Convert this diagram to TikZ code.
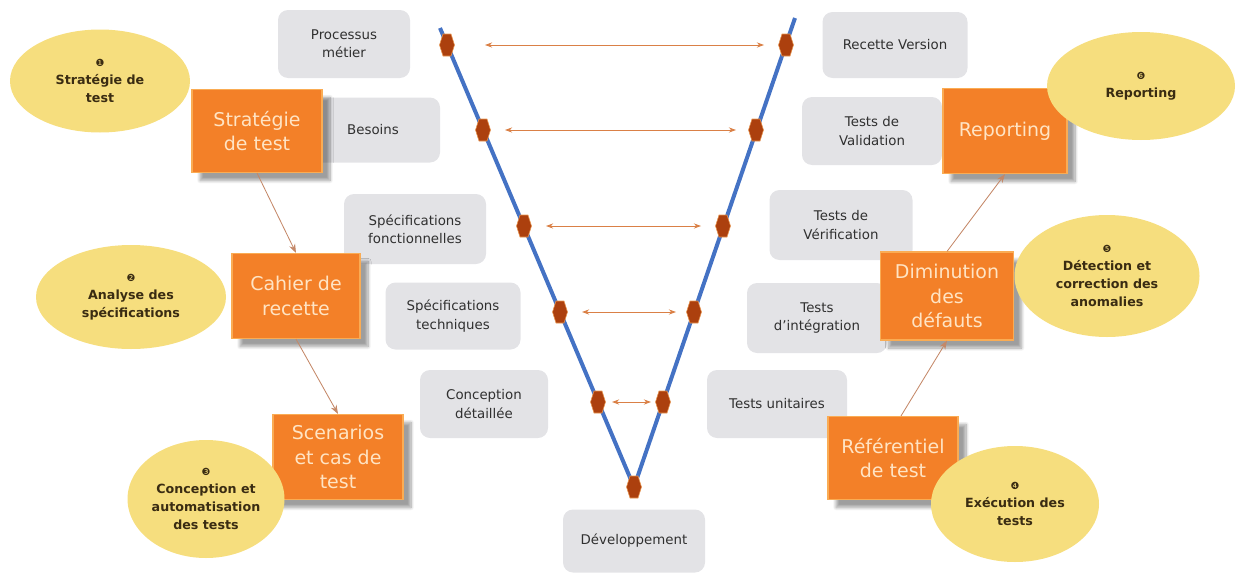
\documentclass[tikz,border=0pt]{standalone}
\usepackage{fontspec}
\setmainfont{DejaVu Sans}
\usepackage{xcolor}
\usetikzlibrary{arrows.meta,shapes.geometric,shadows.blur}

\definecolor{vblue}{RGB}{68,114,196}
\definecolor{markbrown}{RGB}{172,64,14}
\definecolor{markedge}{RGB}{232,150,80}
\definecolor{spanorange}{RGB}{218,128,70}
\definecolor{linkbrown}{RGB}{196,136,104}
\definecolor{stagegray}{RGB}{227,227,230}
\definecolor{stagetext}{RGB}{48,48,48}
\definecolor{phaseorange}{RGB}{243,128,40}
\definecolor{phaseedge}{RGB}{250,172,84}
\definecolor{phasetext}{RGB}{255,228,196}
\definecolor{actyellow}{RGB}{246,222,126}
\definecolor{acttext}{RGB}{58,44,18}

\newcommand\actnum[1]{{\mdseries\fontsize{7}{7}\selectfont #1}}

\tikzset{
  hexmark/.pic={
    \filldraw[fill=markbrown,draw=markedge,line width=.4pt]
      (-4,-11) -- (4,-11) -- (7.5,0) -- (4,11) -- (-4,11) -- (-7.5,0) -- cycle;
  },
}

\begin{document}
\begin{tikzpicture}[
    x=0.25mm, y=-0.25mm,
    >={Stealth[length=1.8mm,width=1.3mm]},
    box size/.style 2 args={minimum width=#1*0.25mm, minimum height=#2*0.25mm},
    stage/.style={rounded corners=2.5mm, fill=stagegray, text=stagetext,
      align=center, inner sep=0pt, font=\fontsize{9.5}{13}\selectfont},
    phase/.style={fill=phaseorange, draw=phaseedge, line width=.8pt,
      text=phasetext, align=center, inner sep=0pt,
      font=\fontsize{13.5}{17.5}\selectfont,
      blur shadow={shadow xshift=2mm, shadow yshift=-2mm,
        shadow blur steps=10, shadow opacity=38}},
    activity/.style={ellipse, fill=actyellow, text=acttext, align=center,
      inner sep=0pt, font=\bfseries\fontsize{9}{13}\selectfont},
    vee/.style={vblue, line width=1mm, line join=round},
    span/.style={<->, spanorange, semithick},
    link/.style={-{Stealth[length=2.2mm,width=1.6mm]}, linkbrown, semithick},
  ]
  \useasboundingbox (0,0) rectangle (1240,576);

  % -- levels of the V, left branch --
  \node[stage, box size={132}{68}] (proc) at (344,44) {Processus\\métier};
  \node[stage, box size={134}{65}] (bes)  at (373,130) {Besoins};
  \node[stage, box size={142}{70}] (spf)  at (415,229) {Spécifications\\fonctionnelles};
  \node[stage, box size={135}{67}] (spt)  at (453,316) {Spécifications\\techniques};
  \node[stage, box size={128}{68}] (conc) at (484,404) {Conception\\détaillée};
  \node[stage, box size={142}{63}] (dev)  at (634,541) {Développement};

  % -- right branch --
  \node[stage, box size={145}{66}] (rv)   at (895,45)  {Recette Version};
  \node[stage, box size={140}{68}] (tval) at (872,131) {Tests de\\Validation};
  \node[stage, box size={143}{70}] (tver) at (841,225) {Tests de\\Vérification};
  \node[stage, box size={140}{70}] (tint) at (817,318) {Tests\\d'intégration};
  \node[stage, box size={140}{68}] (tu)   at (777,404) {Tests unitaires};

  % -- the V itself --
  \coordinate (topL) at (440,28);
  \coordinate (topR) at (795,18);
  \coordinate (bot)  at (634,487);
  \draw[vee] (topL) -- (bot) -- (topR);

  \foreach \i/\xl/\xr/\yy/\sa/\sb in {1/447/786/45/9.5/5.5, 2/483/756/130/5.5/5,
      3/524/723/226/5.5/5.5, 4/560/694/312/5.5/4.5, 5/598/663/402/3.5/3}{
    \coordinate (l\i) at (\xl,\yy);
    \coordinate (r\i) at (\xr,\yy);
    \draw[span, shorten <=\sa mm, shorten >=\sb mm] (l\i) -- (r\i);
    \pic at (l\i) {hexmark};
    \pic at (r\i) {hexmark};
  }
  \pic at (bot) {hexmark};

  % -- test process --
  \node[phase, box size={130}{83}] (strat)  at (257,131)  {Stratégie\\de test};
  \node[phase, box size={128}{85}] (cahier) at (296,296)  {Cahier de\\recette};
  \node[phase, box size={130}{85}] (scen)   at (338,457)  {Scenarios\\et cas de\\test};
  \node[phase, box size={130}{83}] (refer)  at (893,458)  {Référentiel\\de test};
  \node[phase, box size={133}{88}] (dimi)   at (947,296)  {Diminution\\des\\défauts};
  \node[phase, box size={124}{85}] (repo)   at (1005,131) {Reporting};

  \draw[link] (strat.south) -- (cahier.north);
  \draw[link] (cahier.south) -- (scen.north);
  \draw[link] ([xshift=2mm]refer.north) -- (dimi.south);
  \draw[link] (dimi.north) -- (repo.south);

  % -- numbered activities --
  \node[activity, box size={180}{103}] (a1) at (100,81)
       {\actnum{❶}\\Stratégie de\\test};
  \node[activity, box size={190}{104}] (a2) at (131,297)
       {\actnum{❷}\\Analyse des\\spécifications};
  \node[activity, box size={157}{118}] (a3) at (206,499)
       {\actnum{❸}\\Conception et\\automatisation\\des tests};
  \node[activity, box size={168}{116}] (a4) at (1015,504)
       {\actnum{❹}\\Exécution des\\tests};
  \node[activity, box size={185}{122}] (a5) at (1107,276)
       {\actnum{❺}\\Détection et\\correction des\\anomalies};
  \node[activity, box size={188}{108}] (a6) at (1141,86)
       {\actnum{❻}\\Reporting};
\end{tikzpicture}
\end{document}
